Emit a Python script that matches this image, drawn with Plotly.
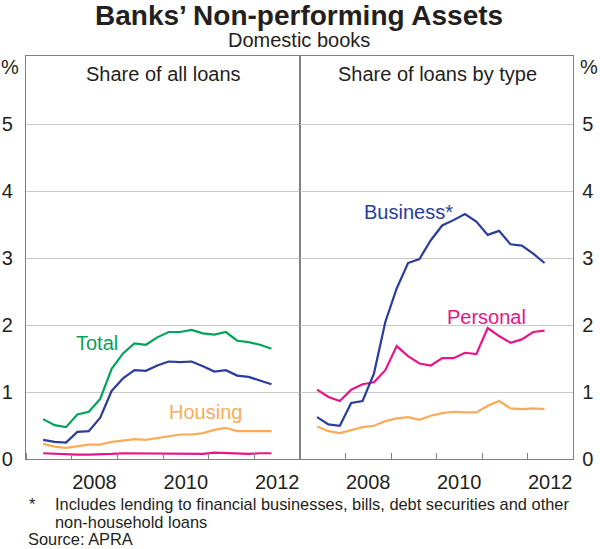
import plotly.graph_objects as go

# ---------------- data ----------------
quarters = ["2007-Q2", "2007-Q3", "2007-Q4", "2008-Q1", "2008-Q2", "2008-Q3", "2008-Q4",
            "2009-Q1", "2009-Q2", "2009-Q3", "2009-Q4", "2010-Q1", "2010-Q2", "2010-Q3",
            "2010-Q4", "2011-Q1", "2011-Q2", "2011-Q3", "2011-Q4", "2012-Q1", "2012-Q2"]

# Share of all loans (%)
total_all = [0.60, 0.51, 0.48, 0.67, 0.71, 0.90, 1.35, 1.58, 1.73, 1.71, 1.82, 1.90, 1.90,
             1.93, 1.88, 1.86, 1.90, 1.77, 1.75, 1.71, 1.65]
business_all = [0.29, 0.26, 0.25, 0.41, 0.42, 0.62, 1.02, 1.21, 1.33, 1.32, 1.40, 1.46, 1.45,
                1.46, 1.39, 1.31, 1.33, 1.25, 1.23, 1.18, 1.12]
housing_all = [0.23, 0.19, 0.17, 0.20, 0.22, 0.22, 0.26, 0.28, 0.30, 0.29, 0.32, 0.35, 0.37,
               0.37, 0.39, 0.44, 0.47, 0.42, 0.42, 0.43, 0.42]
personal_all = [0.09, 0.08, 0.07, 0.07, 0.07, 0.07, 0.08, 0.09, 0.09, 0.08, 0.08, 0.08, 0.08,
                0.08, 0.08, 0.10, 0.09, 0.08, 0.08, 0.09, 0.09]

# Share of loans by type (%)
business_type = [0.63, 0.52, 0.50, 0.84, 0.87, 1.28, 2.05, 2.55, 2.93, 2.99, 3.27, 3.49, 3.57,
                 3.66, 3.55, 3.35, 3.41, 3.21, 3.19, 3.07, 2.93]
personal_type = [1.04, 0.93, 0.87, 1.04, 1.12, 1.15, 1.33, 1.69, 1.54, 1.43, 1.40, 1.51, 1.51,
                 1.59, 1.57, 1.96, 1.84, 1.74, 1.79, 1.90, 1.92]
housing_type = [0.49, 0.42, 0.39, 0.44, 0.48, 0.50, 0.57, 0.61, 0.63, 0.59, 0.65, 0.69, 0.71,
                0.70, 0.70, 0.80, 0.87, 0.76, 0.75, 0.76, 0.75]

year_ticks = [2008, 2010, 2012]
y_ticks = [0, 1, 2, 3, 4, 5]

# ---------------- styling ----------------
GREEN = "#00a55a"
BLUE = "#2a3c9c"
ORANGE = "#fbab58"
MAGENTA = "#e8148a"
BORDER = "#808080"
GRID = "#c8c8c8"
TXT = "#231f20"
FONT = "Arial, Liberation Sans, sans-serif"
W, H = 600, 549


def qpos(q):
    y, qq = q.split("-Q")
    return int(y) + (int(qq) - 1) / 4 + 0.125


xs = [qpos(q) for q in quarters]


def py(p):
    return 1 - p / H


def px(p):
    return p / W


fig = go.Figure()
lw = 2.2
for ys, col in [(personal_all, MAGENTA), (housing_all, ORANGE), (business_all, BLUE), (total_all, GREEN)]:
    fig.add_trace(go.Scatter(x=xs, y=ys, mode="lines", line=dict(color=col, width=lw),
                             xaxis="x", yaxis="y", showlegend=False, hoverinfo="skip"))
for ys, col in [(housing_type, ORANGE), (personal_type, MAGENTA), (business_type, BLUE)]:
    fig.add_trace(go.Scatter(x=xs, y=ys, mode="lines", line=dict(color=col, width=lw),
                             xaxis="x2", yaxis="y2", showlegend=False, hoverinfo="skip"))

xcommon = dict(range=[2007, 2013], showline=True, mirror=True, linecolor=BORDER, linewidth=1.3,
               tickmode="array", tickvals=[y + 0.5 for y in year_ticks],
               ticktext=[str(y) for y in year_ticks], ticks="", showgrid=False, zeroline=False,
               tickfont=dict(size=20, color=TXT, family=FONT), ticklabelstandoff=5,
               minor=dict(tickmode="linear", tick0=2007, dtick=1, ticks="inside", ticklen=6,
                          tickcolor=BORDER, tickwidth=1.3, showgrid=False),
               automargin=False, fixedrange=True)
ydom = [py(459.3), py(56)]
ycommon = dict(range=[0, 6.02], domain=ydom, showline=True, mirror=True, linecolor=BORDER,
               linewidth=1.3, tickmode="array", tickvals=y_ticks, ticks="", showgrid=True,
               gridcolor=GRID, gridwidth=1, zeroline=False,
               tickfont=dict(size=20, color=TXT, family=FONT), automargin=False, fixedrange=True)

fig.update_layout(
    width=W, height=H, margin=dict(l=0, r=0, t=0, b=0, autoexpand=False),
    paper_bgcolor="white", plot_bgcolor="white",
    font=dict(family=FONT, color=TXT),
    xaxis=dict(domain=[px(26), px(300)], anchor="y", **xcommon),
    xaxis2=dict(domain=[px(300), px(573)], anchor="y2", **xcommon),
    yaxis=dict(anchor="x", side="left", ticklabelstandoff=8, **ycommon),
    yaxis2=dict(anchor="x2", side="right", ticklabelstandoff=4, **ycommon),
)

ann = []


def paper_text(text, x, y, size, xanchor="center", bold=False, color=TXT):
    ann.append(dict(text=f"<b>{text}</b>" if bold else text, x=px(x), y=py(y), xref="paper",
                    yref="paper", xanchor=xanchor, yanchor="middle", showarrow=False,
                    font=dict(size=size, color=color, family=FONT)))


paper_text("Banks’ Non-performing Assets", 299, 15, 28, bold=True)
paper_text("Domestic books", 299, 40, 20)
paper_text("Share of all loans", 163, 74, 20)
paper_text("Share of loans by type", 437, 74, 20)
paper_text("%", 10, 67, 20)
paper_text("%", 589, 67, 20)
paper_text("*", 27, 504, 16.4, xanchor="left")
paper_text("Includes lending to financial businesses, bills, debt securities and other", 53, 504, 16.4, xanchor="left")
paper_text("non-household loans", 53, 521.5, 16.4, xanchor="left")
paper_text("Source: APRA", 26, 539, 16.4, xanchor="left")


def series_label(text, x, y, xr, yr, color):
    ann.append(dict(text=text, x=x, y=y, xref=xr, yref=yr, xanchor="center", yanchor="middle",
                    showarrow=False, font=dict(size=20, color=color, family=FONT)))


series_label("Total", 2008.55, 1.73, "x", "y", GREEN)
series_label("Housing", 2010.93, 0.70, "x", "y", ORANGE)
series_label("Business*", 2009.39, 3.69, "x2", "y2", BLUE)
series_label("Personal", 2011.09, 2.13, "x2", "y2", MAGENTA)

fig.update_layout(annotations=ann)
fig.write_html("out.html", config={"displayModeBar": False},
               post_script="document.body.style.margin='0';document.body.style.overflow='hidden';")
